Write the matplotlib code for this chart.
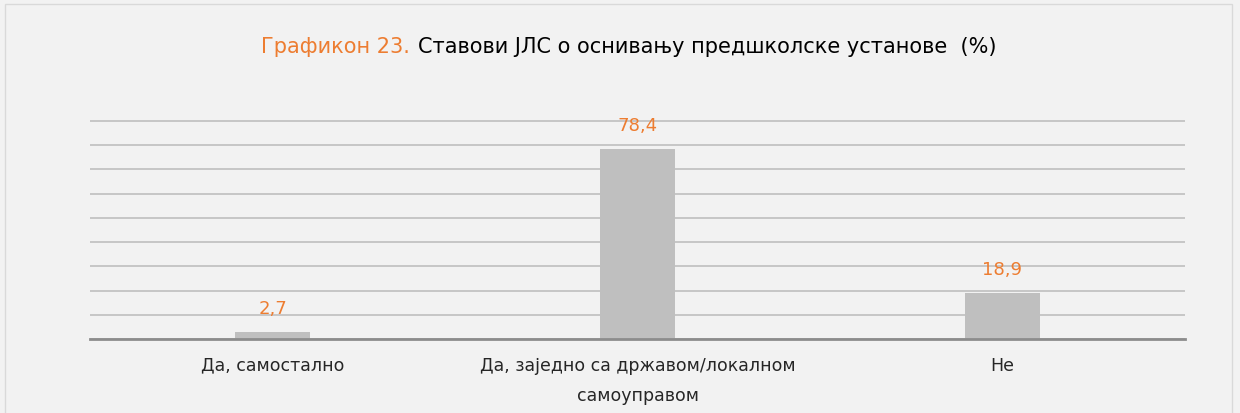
import matplotlib.pyplot as plt
from matplotlib.patches import Rectangle

categories = ['Да, самостално', 'Да, заједно са државом/локалном\nсамоуправом', 'Не']
values = [2.7, 78.4, 18.9]
value_labels = ['2,7', '78,4', '18,9']

orange = '#ED7D31'
plt.rcParams['font.family'] = ['DejaVu Sans']

fig = plt.figure(figsize=(12.4, 4.14), dpi=100, facecolor='#f2f2f2')
ax = fig.add_axes([90/1240, 1-340/414, 1095/1240, 218.7/414])
ax.set_facecolor('#f2f2f2')

x = range(len(categories))
ax.bar(x, values, width=0.205, color='#bfbfbf', zorder=3)
ax.set_xlim(-0.5, len(categories) - 0.5)
ax.set_ylim(0, 90.3)
ax.set_yticks(range(0, 91, 10))
ax.yaxis.grid(True, color='#c6c6c6', linewidth=1.4, zorder=0)
ax.tick_params(axis='y', length=0, labelleft=False)
ax.tick_params(axis='x', length=0, pad=12, labelsize=12.5, colors='#262626')
ax.set_xticks(list(x))
ax.set_xticklabels(categories, linespacing=1.9)
for s in ['top', 'right', 'left']:
    ax.spines[s].set_visible(False)
ax.spines['bottom'].set_color('#8c8c8c')
ax.spines['bottom'].set_linewidth(2)
ax.spines['bottom'].set_zorder(4)

for i, (v, lab) in enumerate(zip(values, value_labels)):
    ax.annotate(lab, (i, v), xytext=(0, 11), textcoords='offset points',
                ha='center', va='bottom', color=orange, fontsize=13)

# title in two colours
fig.text(410/1240, 1-47/414, 'Графикон 23.', color=orange, fontsize=15,
         ha='right', va='center')
fig.text(418/1240, 1-47/414, 'Ставови ЈЛС о оснивању предшколске установе  (%)',
         color='black', fontsize=15, ha='left', va='center')

fig.patches.append(Rectangle((5/1240, -0.05), 1227/1240, 1.05 - 5/414,
                             transform=fig.transFigure, fill=False,
                             edgecolor='#d9d9d9', linewidth=1))

fig.savefig('out.png', dpi=100, facecolor=fig.get_facecolor())
